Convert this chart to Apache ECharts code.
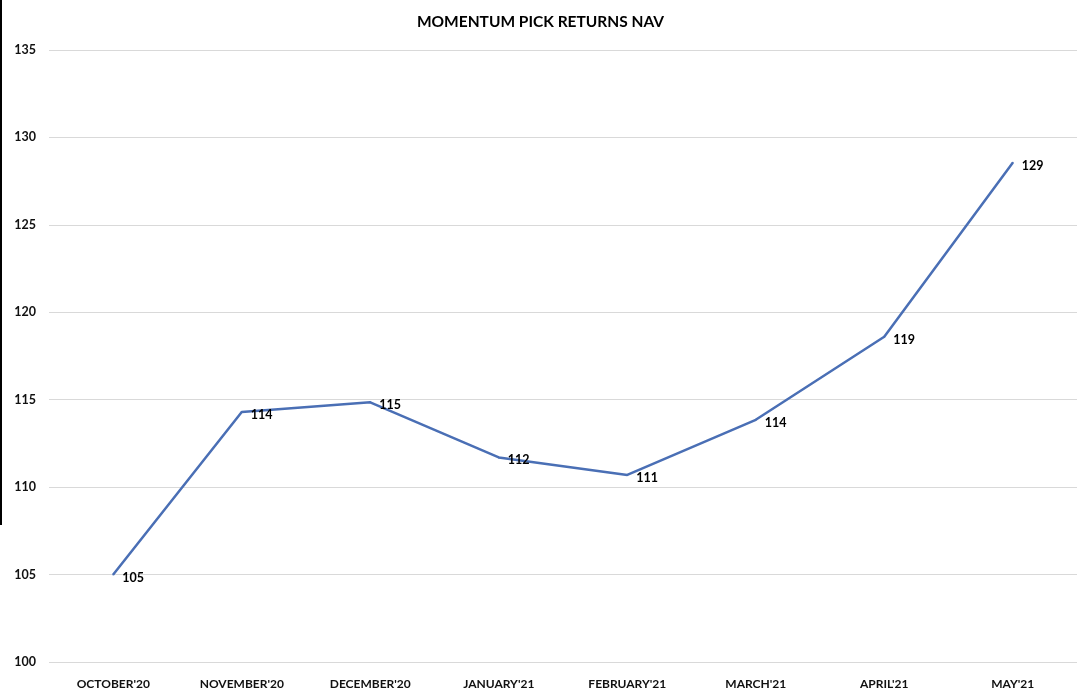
<!DOCTYPE html>
<html><head><meta charset="utf-8">
<script src="https://cdn.jsdelivr.net/npm/echarts@6/dist/echarts.min.js"></script>
<style>html,body{margin:0;padding:0;background:#fff}#c{width:1081px;height:694px}</style>
</head><body><div id="c"></div>
<script>
const categories = ["OCTOBER'20","NOVEMBER'20","DECEMBER'20","JANUARY'21","FEBRUARY'21","MARCH'21","APRIL'21","MAY'21"];
const navValues = [105.0, 114.3, 114.85, 111.7, 110.7, 113.85, 118.6, 128.55];
const yTicks = [100, 105, 110, 115, 120, 125, 130, 135];

const chart = echarts.init(document.getElementById('c'));
const font = 'Lato, "Open Sans", sans-serif';
chart.setOption({
  animation: false,
  backgroundColor: '#fff',
  title: {
    text: 'MOMENTUM PICK RETURNS NAV', left: 'center', top: 9,
    textStyle: {fontFamily: font, fontWeight: 'bold', fontSize: 15.5, color: '#000'}
  },
  grid: {left: 49, right: 4, top: 50, bottom: 32},
  xAxis: {
    type: 'category', data: categories, boundaryGap: true,
    axisLine: {show: false}, axisTick: {show: false},
    axisLabel: {margin: 16, fontFamily: font, fontWeight: 'bold', fontSize: 12, color: '#111'}
  },
  yAxis: {
    type: 'value', min: yTicks[0], max: yTicks[yTicks.length-1], interval: 5,
    axisLine: {show: false}, axisTick: {show: false},
    splitLine: {lineStyle: {color: '#d9d9d9', width: 1}},
    axisLabel: {margin: 13, fontFamily: font, fontWeight: 'bold', fontSize: 12.5, color: '#111'}
  },
  series: [{
    type: 'line', data: navValues, symbol: 'circle', symbolSize: 2, showSymbol: true,
    itemStyle: {color: '#4a6fb5'},
    lineStyle: {color: '#4a6fb5', width: 2.5},
    label: {show: true, position: 'right', distance: 8, offset: [0, 3],
      formatter: p => String(Math.round(p.value)),
      fontFamily: font, fontWeight: 'bold', fontSize: 12.5, color: '#000'}
  }],
  graphic: [{type: 'rect', shape: {x: 0, y: 0, width: 2, height: 525}, style: {fill: '#000'}}]
});
</script></body></html>
